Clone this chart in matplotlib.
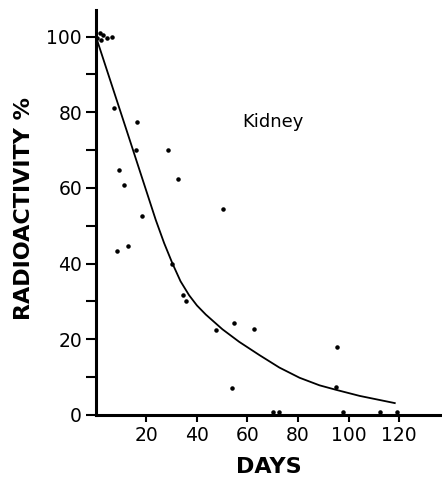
import matplotlib
matplotlib.use("Agg")
import matplotlib.pyplot as plt

days = [0.5, 1.5, 2, 3, 4.5, 6.5,
        7.1, 8.3, 9.1, 11.1, 12.7, 15.9, 16.3, 18.3,
        28.6, 30.2, 32.5, 34.5, 35.7, 47.6, 50.4, 54.0, 54.8, 62.7,
        70, 72.3, 95.2, 95.5, 98, 112.3, 119.2]
activity = [99.5, 101, 99, 100.5, 99.5, 99.8,
            81.2, 43.2, 64.8, 60.7, 44.6, 70.0, 77.5, 52.6,
            70.0, 40.0, 62.3, 31.8, 30.2, 22.5, 54.4, 7.2, 24.4, 22.8,
            0.7, 0.7, 7.4, 18.0, 0.7, 0.7, 0.7]

# fitted curve
curve_days = [0, 12, 23.7, 27, 30.3, 33.5, 36.9, 40, 43.5, 50.1, 56.7,
              64.7, 72.6, 80.6, 88.5, 95.1, 104.4, 118.3]
curve_vals = [100, 75.5, 51.5, 45.4, 40, 35.3, 31.6, 28.9, 26.5, 22.6, 19.3,
              15.8, 12.5, 9.8, 7.8, 6.6, 5.0, 3.1]

x_ticks = [20, 40, 60, 80, 100, 120]
y_ticks = [0, 20, 40, 60, 80, 100]
y_minor = [10, 30, 50, 70, 90]

fig = plt.figure(figsize=(4.42, 4.79), dpi=100)
ax = fig.add_axes([0.217, 0.134, 0.783, 0.845])

ax.plot(curve_days, curve_vals, color="black", lw=1.3)
ax.scatter(days, activity, s=5, color="black", zorder=3)

ax.set_xlim(0, 137)
ax.set_ylim(0, 107)

for side in ["top", "right"]:
    ax.spines[side].set_visible(False)
ax.spines["left"].set_linewidth(2.2)
ax.spines["bottom"].set_linewidth(2.2)

ax.set_xticks(x_ticks)
ax.set_yticks(y_ticks)
ax.set_yticks(y_minor, minor=True)
ax.tick_params(axis="both", which="both", direction="out", width=1.5,
               labelsize=13.5, pad=3)
ax.tick_params(axis="y", which="both", length=7)
ax.tick_params(axis="x", which="major", length=5)

ax.set_xlabel("DAYS", fontsize=16, fontweight="bold", labelpad=9)
ax.set_ylabel("RADIOACTIVITY %", fontsize=16, fontweight="bold")
ax.yaxis.set_label_coords(-0.18, 0.51)

ax.text(58, 77.5, "Kidney", fontsize=13, va="center")

fig.savefig("out.png", dpi=100)
